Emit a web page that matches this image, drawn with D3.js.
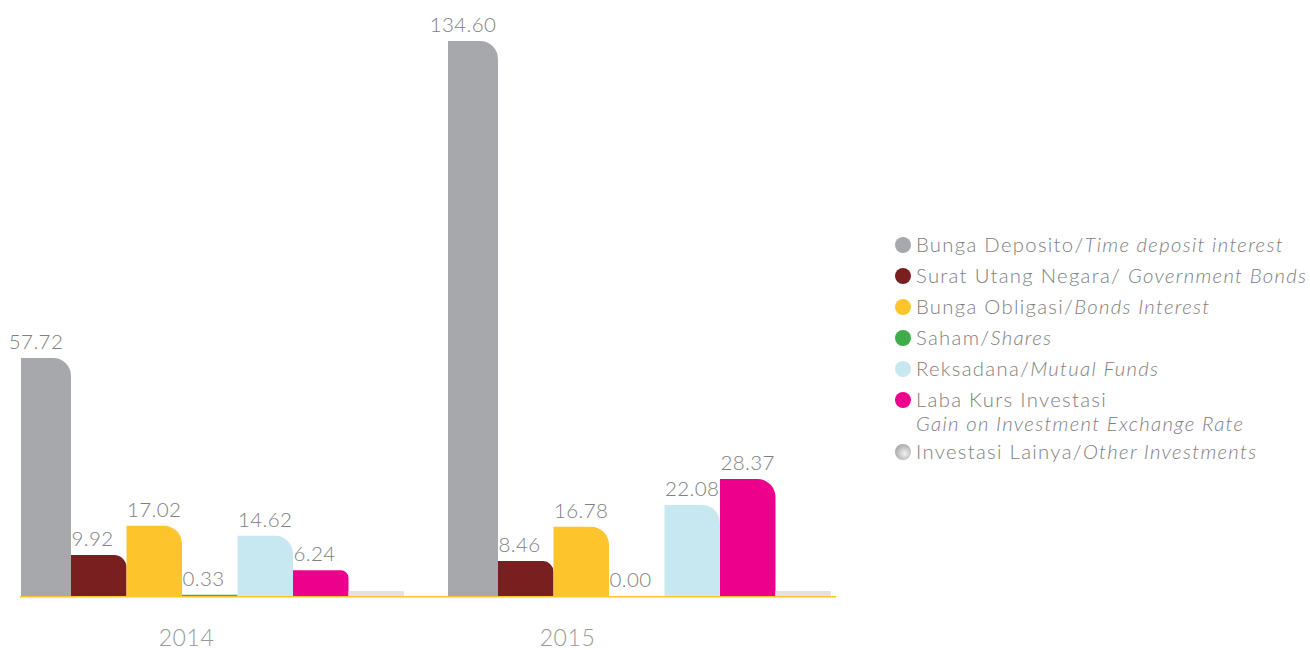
<!DOCTYPE html>
<html>
<head>
<meta charset="utf-8">
<script src="https://cdn.jsdelivr.net/npm/d3@7"></script>
<style>
  html, body { margin: 0; padding: 0; background: #fff; }
  svg { display: block; font-family: "Lato", "Open Sans", sans-serif; }
</style>
</head>
<body>
<svg id="chart" width="1310" height="650"></svg>
<script>
// Investment income by type, 2014 vs 2015
const years = ["2014", "2015"];
const seriesKeys = ["deposit", "govbonds", "bonds", "shares", "mutual", "fx", "other"];
const seriesNameId = [
  "Bunga Deposito/", "Surat Utang Negara/ ", "Bunga Obligasi/", "Saham/",
  "Reksadana/", "Laba Kurs Investasi", "Investasi Lainya/"
];
const seriesNameEn = [
  "Time deposit interest", "Government Bonds", "Bonds Interest", "Shares",
  "Mutual Funds", "Gain on Investment Exchange Rate", "Other Investments"
];
const values2014 = [57.72, 9.92, 17.02, 0.33, 14.62, 6.24, 1.2];
const values2015 = [134.60, 8.46, 16.78, 0.00, 22.08, 28.37, 1.2];
const labelled = [true, true, true, true, true, true, false];
const colors = ["#a7a8ac", "#7a1f20", "#fdc42b", "#3fad49", "#c8e8f1", "#ec008c", "#e2e2e2"];

const valuesByYear = { "2014": values2014, "2015": values2015 };

const svg = d3.select("#chart");
const baseY = 596;
const textColor = "#808080";

// radial shading for the "other" legend dot
const defs = svg.append("defs");
const grad = defs.append("radialGradient").attr("id", "otherDot")
  .attr("cx", "60%").attr("cy", "60%").attr("r", "60%");
grad.append("stop").attr("offset", "0%").attr("stop-color", "#f2f2f2");
grad.append("stop").attr("offset", "100%").attr("stop-color", "#a9a9a9");

const x0 = d3.scaleBand().domain(years).range([15.5, 831]).paddingInner(0.0901);
const x1 = d3.scaleBand().domain(seriesKeys).range([0, x0.bandwidth()]);
const y = d3.scaleLinear().domain([0, 134.6]).range([baseY, 41]);

// bar with a rounded top-right corner
function barPath(x, w, top, bottom, r) {
  r = Math.min(r, bottom - top, w);
  if (r <= 0.5) return `M${x},${bottom}V${top}H${x + w}V${bottom}Z`;
  return `M${x},${bottom}V${top}H${x + w - r}A${r},${r} 0 0 1 ${x + w},${top + r}V${bottom}Z`;
}

const groups = svg.append("g").selectAll("g").data(years).join("g")
  .attr("transform", d => `translate(${x0(d)},0)`);

const rows = groups.selectAll("g.bar")
  .data(yr => seriesKeys.map((k, i) => ({ key: k, i, v: valuesByYear[yr][i] })))
  .join("g").attr("class", "bar");

rows.append("path")
  .attr("d", d => {
    const inset = d.i === 0 ? 5.5 : 0;
    const bx = x1(d.key) + inset;
    const bw = x1.bandwidth() - inset;
    const top = y(d.v);
    const h = baseY - top;
    return barPath(bx, bw, top, baseY, Math.min(18, h * 0.3));
  })
  .attr("fill", d => colors[d.i]);

rows.filter(d => labelled[d.i]).append("text")
  .attr("x", d => d.i === 0 ? x1(d.key) + 5.5 + (x1.bandwidth() - 5.5) / 2 - 10 : x1(d.key) + 0.5)
  .attr("y", d => y(d.v) - 9)
  .attr("text-anchor", d => d.i === 0 ? "middle" : "start")
  .attr("fill", textColor)
  .attr("font-size", 20.5)
  .attr("font-weight", 300)
  .attr("letter-spacing", 0.4)
  .text(d => d.v.toFixed(2));

// baseline
svg.append("line")
  .attr("x1", 20).attr("x2", 836)
  .attr("y1", baseY + 0.75).attr("y2", baseY + 0.75)
  .attr("stroke", "#fdc42b").attr("stroke-width", 1.5);

// year labels
const xYear = d3.scalePoint().domain(years).range([186, 567]);
const axis = svg.append("g").attr("transform", `translate(0,${baseY})`)
  .call(d3.axisBottom(xYear).tickSize(0).tickPadding(0));
axis.select(".domain").remove();
axis.selectAll("text")
  .attr("y", 50)
  .attr("dy", 0)
  .attr("fill", "#999999")
  .attr("font-size", 23)
  .attr("font-weight", 300)
  .attr("letter-spacing", 0.6)
  .attr("font-family", "Lato, sans-serif");

// legend
const legendRowsY = [245, 276, 307, 338, 369, 400, 452];
const legend = svg.append("g")
  .attr("font-family", "Lato, sans-serif")
  .attr("font-size", 20.3).attr("font-weight", 300)
  .attr("letter-spacing", 1.3).attr("fill", textColor);
seriesKeys.forEach((k, i) => {
  const cy = legendRowsY[i];
  legend.append("circle").attr("cx", 903).attr("cy", cy).attr("r", 8)
    .attr("fill", i === 6 ? "url(#otherDot)" : colors[i]);
  const t = legend.append("text").attr("x", 916).attr("y", cy + 7);
  if (i === 5) {
    t.append("tspan").text(seriesNameId[i]);
    legend.append("text").attr("x", 916).attr("y", cy + 30.5)
      .attr("font-style", "italic").text(seriesNameEn[i]);
  } else {
    t.append("tspan").text(seriesNameId[i]);
    t.append("tspan").attr("font-style", "italic").text(seriesNameEn[i]);
  }
});
</script>
</body>
</html>
